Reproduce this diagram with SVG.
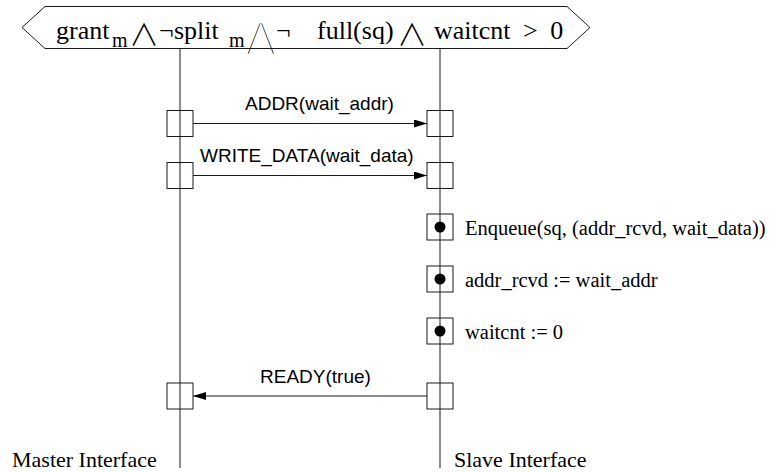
<svg xmlns="http://www.w3.org/2000/svg" width="771" height="472" viewBox="0 0 771 472">
  <style>
    .ln { stroke: #1a1a1a; stroke-width: 1; fill: none; }
    .box { stroke: #1a1a1a; stroke-width: 1; fill: none; }
    .dot { fill: #000; }
    .msg { font-family: "Liberation Sans", Arial, sans-serif; font-size: 19px; fill: #000; }
    .act { font-family: "Liberation Serif", "Times New Roman", serif; font-size: 20.5px; fill: #000; }
    .hdr { font-family: "Liberation Serif", "Times New Roman", serif; font-size: 26px; fill: #000; }
    .sub { font-family: "Liberation Serif", "Times New Roman", serif; font-size: 20px; fill: #000; }
    .op { font-family: "Noto Sans CJK JP", "DejaVu Sans", sans-serif; font-weight: 300; font-size: 30px; fill: #000; }
    .bigop { font-family: "DejaVu Sans", sans-serif; font-size: 36px; fill: #000; stroke: #fff; stroke-width: 2.4px; }
    .lbl { font-family: "Liberation Serif", "Times New Roman", serif; font-size: 22px; fill: #000; }
  </style>
  <defs>
    <marker id="arrow" viewBox="0 0 13 8" refX="13" refY="4" markerWidth="13" markerHeight="8" markerUnits="userSpaceOnUse" orient="auto">
      <path d="M0,0 L13,4 L0,8 Z" fill="#000"/>
    </marker>
  </defs>

  <!-- guard condition: operators first, frame drawn over them -->
  <g id="guard">
    <text class="hdr" x="56" y="39">grant</text>
    <text class="sub" x="112" y="47">m</text>
    <text class="op" x="129" y="45">∧</text>
    <text class="hdr" x="159" y="39">¬</text>
    <text class="hdr" x="174" y="39">split</text>
    <text class="sub" x="229" y="47">m</text>
    <text class="bigop" x="246" y="48">⋀</text>
    <text class="hdr" x="276" y="39">¬</text>
    <text class="hdr" x="317" y="39">full(sq)</text>
    <text class="op" x="397" y="45">∧</text>
    <text class="hdr" x="434" y="39" word-spacing="6">waitcnt &gt; 0</text>
    <polygon class="ln" points="22,27.5 45,6.5 567,6.5 590,27.5 567,48.5 45,48.5"/>
  </g>

  <!-- lifelines -->
  <g id="master">
    <line class="ln" x1="180" y1="48.5" x2="180" y2="468"/>
    <text class="lbl" x="12" y="467">Master Interface</text>
  </g>
  <g id="slave">
    <line class="ln" x1="440" y1="48.5" x2="440" y2="468"/>
    <text class="lbl" x="454" y="467">Slave Interface</text>
  </g>

  <!-- activation boxes -->
  <g id="m-addr"><rect class="box" x="167" y="110.5" width="26" height="26"/></g>
  <g id="s-addr"><rect class="box" x="427" y="110.5" width="26" height="26"/></g>
  <g id="m-data"><rect class="box" x="167" y="162.5" width="26" height="26"/></g>
  <g id="s-data"><rect class="box" x="427" y="162.5" width="26" height="26"/></g>

  <g id="enqueue">
    <rect class="box" x="427" y="214" width="26" height="26"/>
    <circle class="dot" cx="440" cy="227" r="5.5"/>
    <text class="act" x="465" y="235">Enqueue(sq, (addr_rcvd, wait_data))</text>
  </g>
  <g id="assign-addr">
    <rect class="box" x="427" y="266" width="26" height="26"/>
    <circle class="dot" cx="440" cy="279" r="5.5"/>
    <text class="act" x="465" y="287">addr_rcvd := wait_addr</text>
  </g>
  <g id="reset-wait">
    <rect class="box" x="427" y="318" width="26" height="26"/>
    <circle class="dot" cx="440" cy="331" r="5.5"/>
    <text class="act" x="465" y="339">waitcnt := 0</text>
  </g>

  <g id="m-ready"><rect class="box" x="167" y="383" width="26" height="26"/></g>
  <g id="s-ready"><rect class="box" x="427" y="383" width="26" height="26"/></g>

  <!-- messages -->
  <g id="connectors">
    <line class="ln" x1="193" y1="123.5" x2="427" y2="123.5" marker-end="url(#arrow)"/>
    <text class="msg" x="245" y="110">ADDR(wait_addr)</text>
    <line class="ln" x1="193" y1="175.5" x2="427" y2="175.5" marker-end="url(#arrow)"/>
    <text class="msg" x="200" y="162">WRITE_DATA(wait_data)</text>
    <line class="ln" x1="427" y1="396" x2="193" y2="396" marker-end="url(#arrow)"/>
    <text class="msg" x="260" y="383">READY(true)</text>
  </g>
</svg>
